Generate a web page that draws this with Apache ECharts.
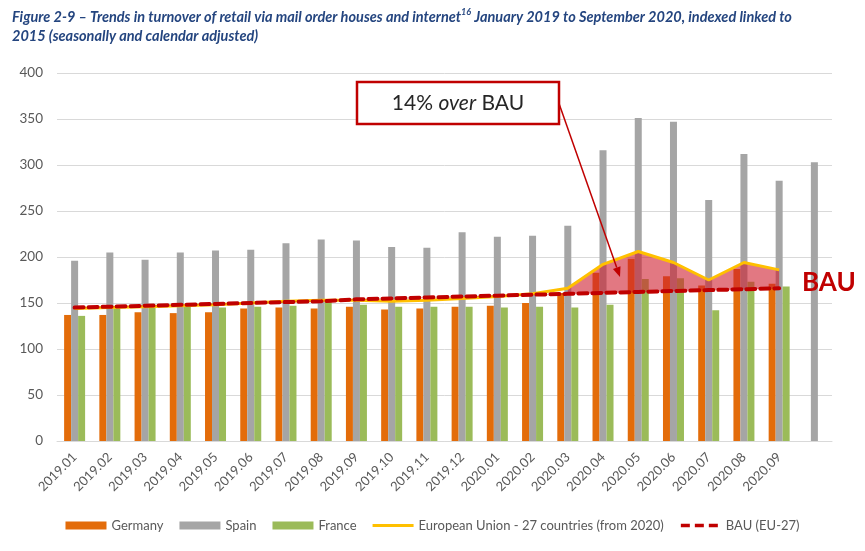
<!DOCTYPE html>
<html>
<head>
<meta charset="utf-8">
<script src="https://cdn.jsdelivr.net/npm/echarts@6/dist/echarts.min.js"></script>
<style>
html,body{margin:0;padding:0;background:#fff;}
#c{width:865px;height:551px;}
</style>
</head>
<body>
<div id="c"></div>
<script>
const categories = ['2019.01','2019.02','2019.03','2019.04','2019.05','2019.06','2019.07','2019.08','2019.09','2019.10','2019.11','2019.12','2020.01','2020.02','2020.03','2020.04','2020.05','2020.06','2020.07','2020.08','2020.09',''];
const germany = [137,137,140,139,140,144,145,144,146,143,144,146,147,150,161,183,198,179,169,187,171,'-'];
const spain   = [196,205,197,205,207,208,215,219,218,211,210,227,222,223,234,316,351,347,262,312,283,303];
const france  = [136,144,146,146,145,146,147,151,148,146,146,146,145,146,145,148,176,177,142,173,168,'-'];
const eu27    = [144,145,146,147,148,150,152,153,153,152,153,155,157,160,166,192,206,194,175,194,186,'-'];
const bau     = [145,146,147,148,149,150,151,152,154,155,156,157,158,159,160,161,162,163,164,165,166,'-'];
const yTicks  = [0,50,100,150,200,250,300,350,400];
const shadeFrom = 14, shadeTo = 20;

const shadeBase = bau.map((v,i)=> (i>=shadeFrom && i<=shadeTo) ? v : '-');
const shadeDiff = eu27.map((v,i)=> (i>=shadeFrom && i<=shadeTo) ? (v - bau[i]) : '-');

const FONT = 'Lato, "Open Sans", sans-serif';
const chart = echarts.init(document.getElementById('c'), null, {renderer:'canvas'});

const tinyBounds = 'M0,0h0.01v0.01h-0.01z M41,8h-0.01v-0.01h0.01z ';
const euIcon = 'path://' + tinyBounds + 'M0,2.6h41v2.8h-41z';
const bauIcon = 'path://' + tinyBounds + 'M1,2.2h9v3.6h-9z M15,2.2h9v3.6h-9z M29,2.2h9v3.6h-9z';

chart.setOption({
  animation:false,
  backgroundColor:'#ffffff',
  textStyle:{fontFamily:FONT},
  title:{
    left:7, top:3,
    text:'{t|Figure 2-9 – Trends in turnover of retail via mail order houses and internet}{s|16}{t| January 2019 to September 2020, indexed linked to}\n{t|2015 (seasonally and calendar adjusted)}',
    textStyle:{
      rich:{
        t:{fontFamily:FONT, fontStyle:'italic', fontSize:14.5, color:'#24457F', lineHeight:19},
        s:{fontFamily:FONT, fontStyle:'italic', fontSize:9, color:'#24457F', verticalAlign:'top', lineHeight:19, padding:[0,0,6,0]}
      }
    }
  },
  grid:{left:57, right:33, top:73, bottom:110, containLabel:false},
  legend:{
    top:514, left:'center',
    itemWidth:41, itemHeight:8, itemGap:16,
    textStyle:{color:'#595959', fontSize:13, fontFamily:FONT},
    data:[
      {name:'Germany', icon:'rect'},
      {name:'Spain', icon:'rect'},
      {name:'France', icon:'rect'},
      {name:'European Union - 27 countries (from 2020)', icon:euIcon},
      {name:'BAU (EU-27)', icon:bauIcon}
    ]
  },
  xAxis:{
    type:'category', data:categories,
    axisTick:{show:false},
    axisLine:{lineStyle:{color:'#D9D9D9', width:1}},
    axisLabel:{rotate:45, color:'#595959', fontSize:13, fontFamily:FONT, margin:14, interval:0}
  },
  yAxis:{
    type:'value', min:yTicks[0], max:yTicks[yTicks.length-1], interval:yTicks[1]-yTicks[0],
    axisLine:{show:false}, axisTick:{show:false},
    splitLine:{lineStyle:{color:'#D9D9D9', width:1}},
    axisLabel:{color:'#595959', fontSize:13.5, fontFamily:FONT, margin:14}
  },
  series:[
    {name:'Germany', type:'bar', data:germany, barWidth:7, barGap:'0%', itemStyle:{color:'#E36C0A'}},
    {name:'Spain', type:'bar', data:spain, barWidth:7, barGap:'0%', itemStyle:{color:'#A5A5A5'}},
    {name:'France', type:'bar', data:france, barWidth:7, barGap:'0%', itemStyle:{color:'#9BBB59'}},
    {name:'shadeBase', type:'line', stack:'shade', data:shadeBase, symbol:'none', silent:true,
      lineStyle:{width:0, opacity:0}, z:3},
    {name:'shadeDiff', type:'line', stack:'shade', data:shadeDiff, symbol:'none', silent:true,
      lineStyle:{width:0, opacity:0}, areaStyle:{color:'rgba(207,30,47,0.6)', opacity:1}, z:3},
    {name:'European Union - 27 countries (from 2020)', type:'line', data:eu27, symbol:'none',
      lineStyle:{color:'#FFC000', width:3}, itemStyle:{color:'#FFC000'}, z:4},
    {name:'BAU (EU-27)', type:'line', data:bau, symbol:'none',
      lineStyle:{color:'#C00000', width:4, type:[9,5], cap:'round'}, itemStyle:{color:'#C00000'}, z:5}
  ],
  graphic:[
    {type:'rect', shape:{x:357, y:82, width:202, height:42},
      style:{fill:'#ffffff', stroke:'#C00000', lineWidth:2.5}, z:10},
    {type:'text', x:458, y:103, z:11,
      style:{text:'{a|14% }{b|over}{a| BAU}', align:'center', verticalAlign:'middle',
        rich:{a:{fontFamily:FONT, fontSize:21, fill:'#262626'}, b:{fontFamily:FONT, fontSize:21, fontStyle:'italic', fill:'#262626'}}}},
    {type:'line', shape:{x1:559, y1:103.5, x2:616.7, y2:267.6}, style:{stroke:'#C00000', lineWidth:1.5}, z:10},
    {type:'polygon', shape:{points:[[620,277],[620.5,266.3],[612.9,268.9]]}, style:{fill:'#C00000'}, z:10},
    {type:'text', x:802, y:283, z:11,
      style:{text:'BAU', fontFamily:FONT, fontSize:26, fontWeight:'bold', fill:'#C00000', verticalAlign:'middle', align:'left'}}
  ]
});
</script>
</body>
</html>
